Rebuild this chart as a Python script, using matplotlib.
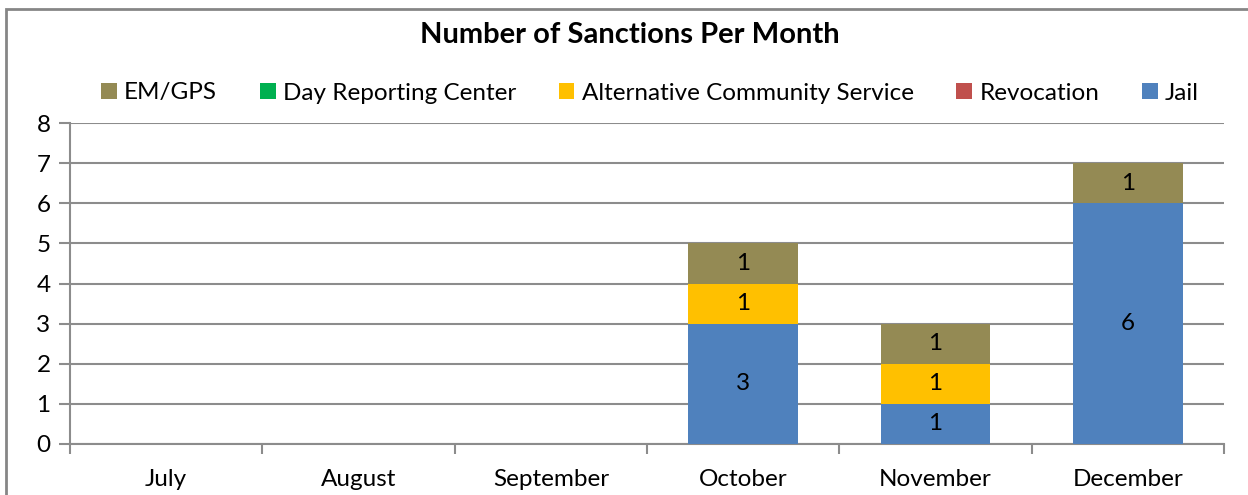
import matplotlib
matplotlib.use("Agg")
import matplotlib.pyplot as plt
from matplotlib.patches import Rectangle, Patch
import numpy as np

months = ["July", "August", "September", "October", "November", "December"]
jail = [0, 0, 0, 3, 1, 6]
revocation = [0, 0, 0, 0, 0, 0]
alt_comm = [0, 0, 0, 1, 1, 0]
day_report = [0, 0, 0, 0, 0, 0]
em_gps = [0, 0, 0, 1, 1, 1]

series = [
    ("Jail", jail, "#4F81BD"),
    ("Revocation", revocation, "#C0504D"),
    ("Alternative Community Service", alt_comm, "#FFC000"),
    ("Day Reporting Center", day_report, "#00B050"),
    ("EM/GPS", em_gps, "#948A54"),
]

plt.rcParams['font.family'] = ['Lato', 'DejaVu Sans']
grid_c = "#8C8C8C"
fs = 17.5

fig = plt.figure(figsize=(12.48, 4.95), dpi=100)
ax = fig.add_axes([70/1248, 1-444/495, (1224-70)/1248, (444-123)/495])

x = np.arange(len(months))
bottom = np.zeros(len(months))
for name, vals, col in series:
    vals = np.array(vals, dtype=float)
    ax.bar(x, vals, 0.57, bottom=bottom, color=col, label=name, zorder=3)
    for xi, v, b in zip(x, vals, bottom):
        if v > 0:
            ax.text(xi, b + v/2, f"{int(v)}", ha="center", va="center", fontsize=fs, zorder=4)
    bottom += vals

ax.set_xlim(-0.5, len(months)-0.5)
ax.set_ylim(0, 8)
ax.set_yticks(range(0, 9))
ax.yaxis.grid(True, color=grid_c, linewidth=1.5, zorder=0)
ax.set_axisbelow(True)
ax.set_xticks(x)
ax.set_xticklabels(months, fontsize=fs)
ax.set_xticks(np.arange(-0.5, len(months)), minor=True)
ax.tick_params(axis="x", which="major", length=0, pad=18)
ax.tick_params(axis="x", which="minor", length=7, color=grid_c, width=1.5)
ax.tick_params(axis="y", length=8, color=grid_c, width=1.5, labelsize=fs, pad=6)
for s in ["top", "right"]:
    ax.spines[s].set_visible(False)
for s in ["left", "bottom"]:
    ax.spines[s].set_color(grid_c)
    ax.spines[s].set_linewidth(1.5)

fig.text(630/1248, 1-35/495, "Number of Sanctions Per Month", ha="center", va="center",
         fontsize=21, fontweight="bold")

order = ["EM/GPS", "Day Reporting Center", "Alternative Community Service", "Revocation", "Jail"]
cmap = {n: c for n, _, c in series}
handles = [Patch(facecolor=cmap[n], edgecolor="none") for n in order]
fig.legend(handles, order, loc="center", bbox_to_anchor=(650/1248, 1-93/495), ncol=5,
           frameon=False, fontsize=fs, handlelength=0.65, handleheight=0.65,
           handletextpad=0.3, columnspacing=1.75)

fig.patches.append(Rectangle((6/1248, -0.1), 1.2, 1-9/495+0.1, transform=fig.transFigure,
                             fill=False, edgecolor="#868686", linewidth=2))

fig.savefig("out.png", dpi=100)
